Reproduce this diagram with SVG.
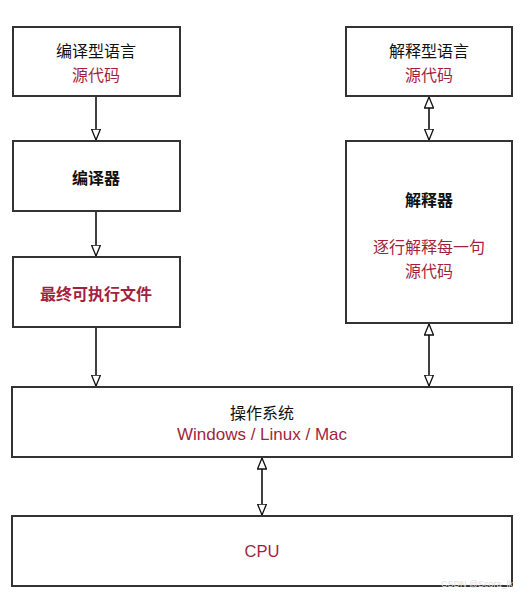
<svg xmlns="http://www.w3.org/2000/svg" width="520" height="596" viewBox="0 0 520 596">
<style>
.box{fill:#fff;stroke:#333;stroke-width:2}
text{font-family:"Noto Sans CJK SC","Liberation Sans",sans-serif;font-size:16px;text-anchor:middle;dominant-baseline:central}
.k{fill:#111}
.r{fill:#a31f3e}
.b{font-weight:bold}
.en{font-family:"Liberation Sans","Noto Sans CJK SC",sans-serif;font-size:17px}
.line{stroke:#111;stroke-width:1.6;fill:none}
.wm{fill:#ddd;font-size:9px;font-family:"Liberation Sans",sans-serif}
</style>
<defs>
<marker id="ah" viewBox="0 0 12 10" refX="11.5" refY="5" markerWidth="12" markerHeight="10" markerUnits="userSpaceOnUse" orient="auto-start-reverse">
<path d="M0.5,0.5 L11.5,5 L0.5,9.5 Z" fill="#fff" stroke="#111" stroke-width="1.3"/>
</marker>
</defs>
<rect width="520" height="596" fill="#fff"/>
<g id="connectors">
<line class="line" x1="96" y1="97" x2="96" y2="140" marker-end="url(#ah)"/>
<line class="line" x1="96" y1="212" x2="96" y2="256" marker-end="url(#ah)"/>
<line class="line" x1="96" y1="327" x2="96" y2="386" marker-end="url(#ah)"/>
<line class="line" x1="429" y1="97" x2="429" y2="140" marker-start="url(#ah)" marker-end="url(#ah)"/>
<line class="line" x1="429" y1="324" x2="429" y2="386" marker-start="url(#ah)" marker-end="url(#ah)"/>
<line class="line" x1="262" y1="458" x2="262" y2="515" marker-start="url(#ah)" marker-end="url(#ah)"/>
</g>
<g id="compiled-lang">
<rect class="box" x="13" y="27" width="167" height="69"/>
<text class="k" x="96" y="50">编译型语言</text>
<text class="r" x="96" y="74">源代码</text>
</g>
<g id="compiler">
<rect class="box" x="13" y="141" width="167" height="70"/>
<text class="k b" x="96" y="177">编译器</text>
</g>
<g id="executable">
<rect class="box" x="13" y="257" width="167" height="70"/>
<text class="r b" x="96" y="293">最终可执行文件</text>
</g>
<g id="interpreted-lang">
<rect class="box" x="346" y="27" width="166" height="69"/>
<text class="k" x="429" y="50">解释型语言</text>
<text class="r" x="429" y="74">源代码</text>
</g>
<g id="interpreter">
<rect class="box" x="346" y="141" width="166" height="182"/>
<text class="k b" x="429" y="199">解释器</text>
<text class="r" x="429" y="246">逐行解释每一句</text>
<text class="r" x="429" y="270">源代码</text>
</g>
<g id="os">
<rect class="box" x="12" y="387" width="500" height="70"/>
<text class="k" x="262" y="412">操作系统</text>
<text class="r en" x="262" y="434">Windows / Linux / Mac</text>
</g>
<g id="cpu">
<rect class="box" x="12" y="516" width="500" height="70"/>
<text class="r en" x="262" y="551" style="font-size:16.5px">CPU</text>
</g>
<text class="wm" x="477" y="584">CSDN @Scora_lk</text>
</svg>
